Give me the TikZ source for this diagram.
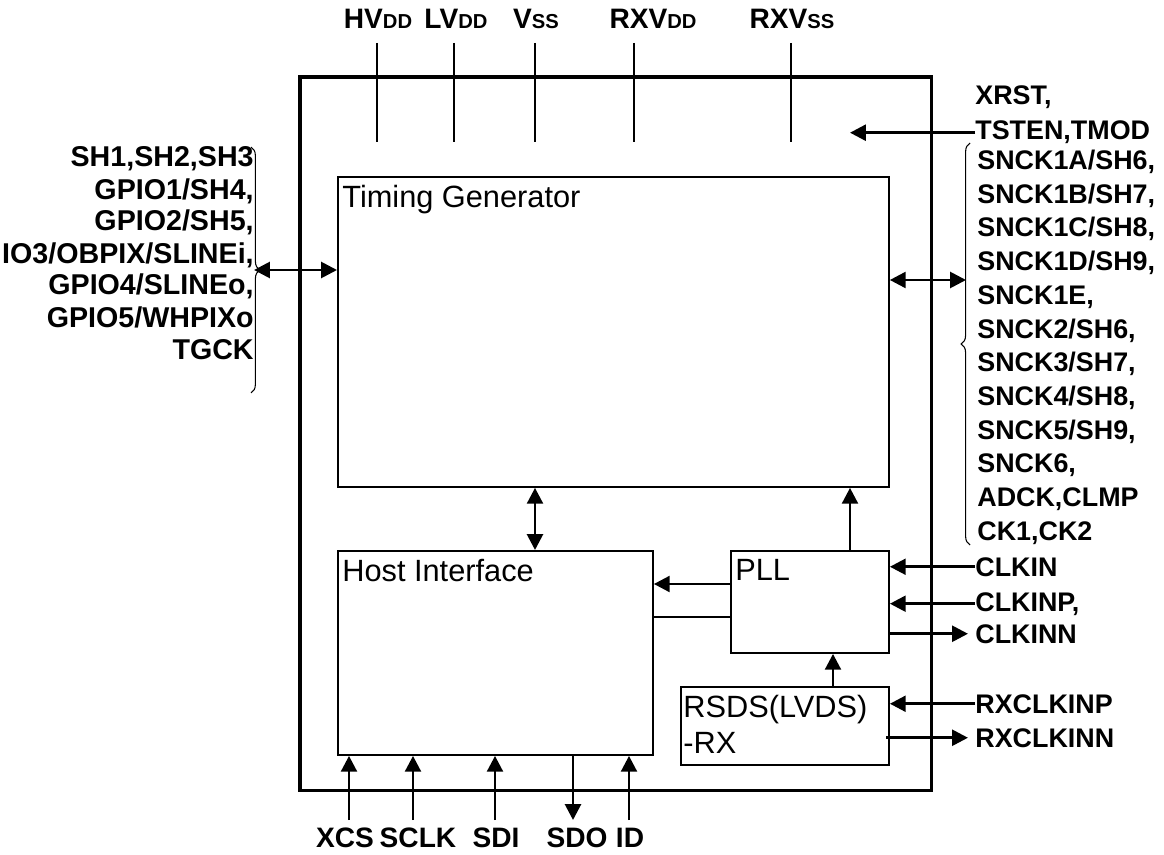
\documentclass[tikz,border=0pt]{standalone}
\usepackage{fontspec}
\setmainfont{Liberation Sans}
\usetikzlibrary{arrows.meta,positioning,decorations.pathreplacing}

\newcommand{\lowdd}[1]{{\fontsize{11.5}{11.5}\selectfont #1}}

\begin{document}
\begin{tikzpicture}[
  x=0.02cm,y=-0.02cm,
  every node/.style={inner sep=0pt},
  pinlbl/.style={font=\fontsize{16}{19}\selectfont\bfseries},
  leftlbl/.style={font=\fontsize{16.3}{19}\selectfont\bfseries,anchor=base east},
  rightlbl/.style={font=\fontsize{15.3}{19}\selectfont\bfseries,anchor=base west},
  blk/.style={draw,line width=1.1pt,anchor=north west},
  blklbl/.style={font=\fontsize{17.5}{20.5}\selectfont,anchor=north west,align=left},
  sig/.style={line width=1.6pt,-{Triangle[length=9pt,width=9pt]}},
  dsig/.style={line width=1.6pt,{Triangle[length=9pt,width=9pt]}-{Triangle[length=9pt,width=9pt]}},
  wire/.style={line width=1.6pt},
  pin/.style={line width=0.8pt},
  brc/.style={decorate,decoration={brace,amplitude=5pt},line width=0.6pt}
]

% ---- canvas ----
\useasboundingbox (0,0) rectangle (1164,855);

% ---- chip outline and blocks ----
\node[blk,line width=2pt,minimum width=12.64cm,minimum height=14.28cm] (chip) at (298,75) {};
\node[blk,minimum width=11.02cm,minimum height=6.2cm] (tg) at (337,176) {};
\node[blk,minimum width=6.3cm,minimum height=4.08cm] (host) at (337,550) {};
\node[blk,minimum width=3.16cm,minimum height=2.04cm] (pll) at (730,550) {};
\node[blk,minimum width=4.16cm,minimum height=1.56cm] (rsds) at (680,686) {};

\node[blklbl] (tgname) at ([shift={(5,9)}]tg.north west) {Timing Generator};
\node[blklbl] (hostname) at ([shift={(5,9)}]host.north west) {Host Interface};
\node[blklbl] (pllname) at ([shift={(5,9)}]pll.north west) {PLL};
\node[blklbl] (rsdsname) at ([shift={(3,9)}]rsds.north west) {RSDS(LVDS)\\-RX};

% ---- internal connections ----
\coordinate (busx) at (535,520);
\draw[dsig] (busx |- tg.south) -- (busx |- host.north);
\coordinate (ckx) at (850,520);
\draw[sig] (ckx |- pll.north) -- (ckx |- tg.south);
\coordinate (rxx) at (833,670);
\draw[sig] (rxx |- rsds.north) -- (rxx |- pll.south);
\coordinate (pa) at (700,584);
\draw[sig] (pa -| pll.west) -- (pa -| host.east);
\coordinate (pb) at (700,617);
\draw[wire] (pb -| pll.west) -- (pb -| host.east);

% ---- supply pins (top) ----
\foreach \lx/\px/\n/\t in {378/377/hv/{HV\lowdd{DD}},456/454/lv/{LV\lowdd{DD}},
    536/535/vss/{V\lowdd{SS}},653/634/rxvdd/{RXV\lowdd{DD}},792/791/rxvss/{RXV\lowdd{SS}}}{
  \node[pinlbl,anchor=base] (\n) at (\lx,29) {\t};
  \coordinate (\n-pin) at (\px,43);
  \draw[pin] (\n-pin) -- ++(0,99);
}

% ---- serial interface pins (bottom) ----
\foreach \lx/\ax/\n/\t in {345/349/xcs/XCS,418/413/sclk/SCLK,496/495/sdi/SDI,630/629/id/ID}{
  \node[pinlbl,anchor=base] (\n) at (\lx,847) {\t};
  \coordinate (\n-pin) at (\ax,820);
  \draw[sig] (\n-pin) -- (\n-pin |- host.south);
}
\node[pinlbl,anchor=base] (sdo) at (577,847) {SDO};
\coordinate (sdo-pin) at (573,820);
\draw[sig] (sdo-pin |- host.south) -- (sdo-pin);

% ---- left side I/O ----
\foreach \t [count=\i] in {{SH1,SH2,SH3},{GPIO1/SH4,},{GPIO2/SH5,},{IO3/OBPIX/SLINEi,},
    {GPIO4/SLINEo,},{GPIO5/WHPIXo},TGCK}
  \node[leftlbl] (l\i) at (254,167+32*\i-32) {\t};
\draw[brc] (251,147) -- (251,393);
\coordinate (ltip) at (254,270);
\draw[dsig] (ltip) -- (ltip -| tg.west);

% ---- right side I/O ----
\node[rightlbl] (xrst) at (975,105) {XRST,};
\node[rightlbl] (tsten) at (975,140) {TSTEN,TMOD};
\coordinate (rstend) at (850,131);
\draw[sig] (tsten.west) -- (tsten.west -| rstend);

\foreach \t [count=\i] in {{SNCK1A/SH6,},{SNCK1B/SH7,},{SNCK1C/SH8,},{SNCK1D/SH9,},
    {SNCK1E,},{SNCK2/SH6,},{SNCK3/SH7,},{SNCK4/SH8,},{SNCK5/SH9,},{SNCK6,},
    {ADCK,CLMP},{CK1,CK2}}
  \node[rightlbl] (r\i) at (977,169.5+33.7*\i-33.7) {\t};
\draw[brc] (970,545) -- (970,143);
\coordinate (rtip) at (966,280);
\draw[dsig] (rtip -| tg.east) -- (rtip);

% ---- clock pins ----
\node[rightlbl] (clkin) at (975,576) {CLKIN};
\node[rightlbl] (clkinp) at (975,611) {CLKINP,};
\node[rightlbl] (clkinn) at (975,643) {CLKINN};
\node[rightlbl] (rxp) at (975,713) {RXCLKINP};
\node[rightlbl] (rxn) at (975,747) {RXCLKINN};

\draw[sig] (clkin.west) -- (clkin.west -| pll.east);
\draw[sig] (clkinp.west) -- (clkinp.west -| pll.east);
\draw[sig] (clkinn.west -| pll.east) -- ([xshift=-4pt]clkinn.west);
\draw[sig] (rxp.west) -- (rxp.west -| rsds.east);
\draw[sig] ([xshift=-2pt]rxn.west -| rsds.east) -- ([xshift=-4pt]rxn.west);

\end{tikzpicture}
\end{document}
